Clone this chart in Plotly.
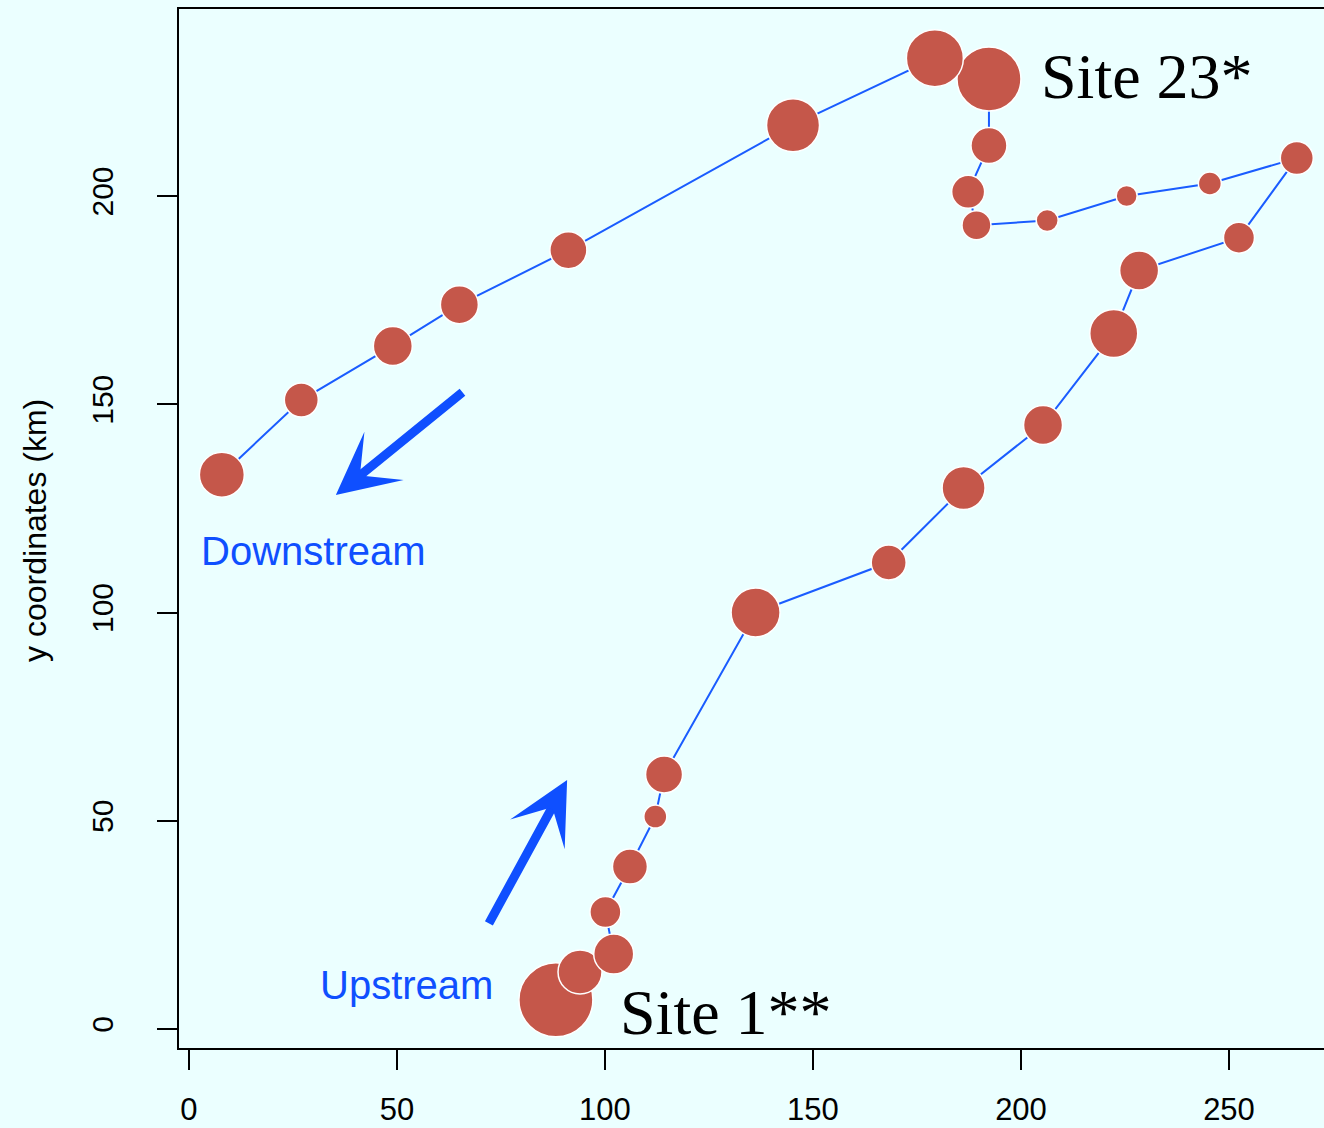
import plotly.graph_objects as go

# Sampling sites along the river, ordered from Site 1 (upstream) to the downstream end
site_x = [88.2, 94.0, 102.1, 100.1, 106.0, 112.1, 114.2, 136.2, 168.2, 186.2,
          205.3, 222.3, 228.4, 252.4, 266.3, 245.4, 225.4, 206.3, 189.3, 187.3,
          192.3, 192.3, 179.3, 145.2, 91.2, 65.0, 49.0, 27.0, 7.9]
site_y = [7.0, 13.7, 18.0, 28.1, 39.0, 51.0, 61.1, 100.0, 112.0, 129.9,
          145.0, 167.0, 182.1, 190.0, 209.1, 203.0, 200.0, 194.1, 193.0, 201.0,
          212.1, 228.1, 233.1, 217.0, 187.0, 173.9, 164.0, 151.0, 133.1]
# Bubble diameter per site
site_size = [75, 45, 41, 32, 36, 24, 38, 50, 36, 44,
             40, 49, 40, 32, 34, 24, 22, 23, 30, 34,
             37, 65, 58, 54, 38, 39, 40, 35, 46]

x_ticks = [0, 50, 100, 150, 200, 250]
y_ticks = [0, 50, 100, 150, 200]

# Direction arrows: (tail_x, tail_y, tip_x, tip_y)
downstream_arrow = (66.1, 153.2, 35.3, 128.2)
upstream_arrow = (71.9, 25.0, 90.9, 59.8)

BG = "#EBFFFF"
LINE_BLUE = "#1A5CFF"
ARROW_BLUE = "#0F4FFF"
DOT = "#C5574A"

fig = go.Figure()
fig.add_trace(go.Scatter(
    x=site_x, y=site_y, mode="lines+markers",
    line=dict(color=LINE_BLUE, width=2),
    marker=dict(size=[s - 1 for s in site_size], color=DOT,
                line=dict(color="white", width=1.5), opacity=1),
    hoverinfo="skip", showlegend=False,
))

annotations = []
for tx, ty, hx, hy in (downstream_arrow, upstream_arrow):
    annotations.append(dict(
        x=hx, y=hy, ax=tx, ay=ty, xref="x", yref="y", axref="x", ayref="y",
        text="", showarrow=True, arrowhead=3, arrowsize=1.15, arrowwidth=9,
        arrowcolor=ARROW_BLUE, standoff=0, startstandoff=0,
    ))

annotations += [
    dict(x=30.0, y=114.8, xref="x", yref="y", text="Downstream", showarrow=False,
         font=dict(family="Liberation Sans, Arial", size=40, color=ARROW_BLUE)),
    dict(x=52.4, y=10.6, xref="x", yref="y", text="Upstream", showarrow=False,
         font=dict(family="Liberation Sans, Arial", size=40, color=ARROW_BLUE)),
    dict(x=site_x[21], y=site_y[21], xref="x", yref="y", text="Site 23*",
         showarrow=False, xanchor="left", yanchor="middle", xshift=50, yshift=2,
         font=dict(family="Liberation Serif, Times New Roman", size=64, color="black")),
    dict(x=site_x[0], y=site_y[0], xref="x", yref="y", text="Site 1**",
         showarrow=False, xanchor="left", yanchor="middle", xshift=62, yshift=-13,
         font=dict(family="Liberation Serif, Times New Roman", size=64, color="black")),
    dict(x=-0.1258, y=0.4986, xref="paper", yref="paper", text="y coordinates (km)",
         showarrow=False, textangle=-90, xanchor="center", yanchor="middle",
         font=dict(family="Liberation Sans, Arial", size=32, color="black")),
]

fig.update_layout(
    width=1324, height=1128,
    margin=dict(l=179, r=0, t=9, b=80, autoexpand=False),
    paper_bgcolor=BG, plot_bgcolor=BG,
    annotations=annotations,
    font=dict(family="Liberation Sans, Arial", size=30, color="black"),
)
fig.update_xaxes(
    range=[-2.40, 272.84], tickvals=x_ticks, ticktext=[str(v) for v in x_ticks],
    showgrid=False, zeroline=False, showline=True, linecolor="black", linewidth=2,
    mirror=True, ticks="outside", ticklen=20, tickwidth=2, tickcolor="black",
    ticklabelstandoff=13, tickfont=dict(size=31),
)
fig.update_yaxes(
    range=[-4.56, 244.9], tickvals=y_ticks, ticktext=[str(v) for v in y_ticks],
    showgrid=False, zeroline=False, showline=True, linecolor="black", linewidth=2,
    mirror=False, ticks="outside", ticklen=20, tickwidth=2, tickcolor="black",
    tickangle=-90, ticklabelstandoff=32, tickfont=dict(size=30),
)

fig.write_html("out.html")
